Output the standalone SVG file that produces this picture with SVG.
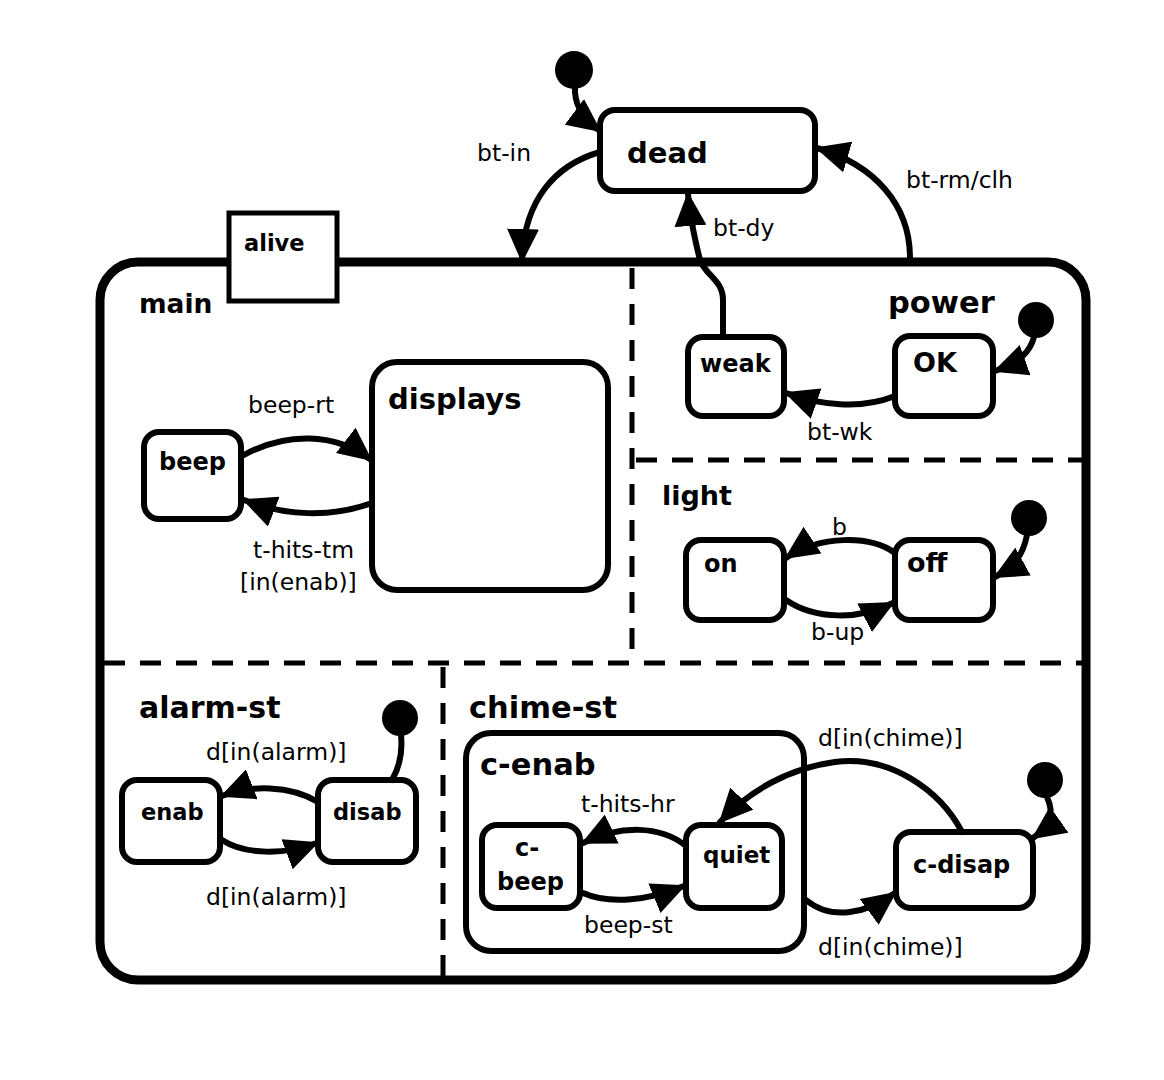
<svg xmlns="http://www.w3.org/2000/svg" width="1164" height="1080" viewBox="0 0 1164 1080">
  <style>
    .state { fill: #fff; stroke: #000; stroke-width: 6; }
    .outer { fill: #fff; stroke: #000; stroke-width: 9; }
    .region { fill: none; stroke: #000; stroke-width: 5; stroke-dasharray: 21 15; }
    .edge { fill: none; stroke: #000; stroke-width: 6; stroke-linecap: round; }
    .arrow { marker-end: url(#head); }
    .init { fill: #000; }
    .name { font-family: "DejaVu Sans", "Liberation Sans", sans-serif; font-size: 29px; font-weight: bold; fill: #000; }
    .small { font-size: 24px; }
    .lbl { font-family: "DejaVu Sans", "Liberation Sans", sans-serif; font-size: 23.5px; fill: #000; }
  </style>
  <defs>
    <marker id="head" markerUnits="userSpaceOnUse" markerWidth="34" markerHeight="32" refX="32" refY="16" orient="auto">
      <path d="M0,0 L34,16 L0,32 z" fill="#000"/>
    </marker>
  </defs>
  <rect width="1164" height="1080" fill="#fff"/>

  <!-- alive superstate with its orthogonal regions -->
  <g id="alive">
    <rect class="outer" x="100" y="262" width="986" height="718" rx="38"/>
    <rect fill="#fff" stroke="#000" stroke-width="5" x="229" y="213" width="108" height="88"/>
    <text class="name" x="244" y="251" style="font-size:22.5px">alive</text>
    <line class="region" x1="632" y1="268" x2="632" y2="660"/>
    <line class="region" x1="636" y1="460" x2="1082" y2="460"/>
    <line class="region" x1="104" y1="663" x2="1082" y2="663"/>
    <line class="region" x1="443" y1="667" x2="443" y2="976"/>
    <text class="name" x="139" y="313" style="font-size:26.5px">main</text>
    <text class="name" x="888" y="313" style="font-size:30.5px">power</text>
    <text class="name" x="662" y="505" style="font-size:27px">light</text>
    <text class="name" x="139" y="718" style="font-size:30px">alarm-st</text>
    <text class="name" x="469" y="718" style="font-size:30.5px">chime-st</text>
  </g>

  <g id="dead">
    <rect class="state" x="600" y="110" width="215" height="81" rx="15"/>
    <text class="name" x="627" y="163">dead</text>
  </g>
  <g id="displays">
    <rect class="state" x="372" y="362" width="236" height="228" rx="25"/>
    <text class="name" x="388" y="409">displays</text>
  </g>
  <g id="beep">
    <rect class="state" x="144" y="432" width="97" height="87" rx="15"/>
    <text class="name small" x="159" y="470">beep</text>
  </g>
  <g id="weak">
    <rect class="state" x="688" y="337" width="96" height="79" rx="15"/>
    <text class="name small" x="700" y="372">weak</text>
  </g>
  <g id="OK">
    <rect class="state" x="895" y="336" width="98" height="80" rx="15"/>
    <text class="name small" x="913" y="372" style="font-size:27px">OK</text>
  </g>
  <g id="on">
    <rect class="state" x="686" y="540" width="98" height="80" rx="15"/>
    <text class="name small" x="704" y="572">on</text>
  </g>
  <g id="off">
    <rect class="state" x="895" y="540" width="98" height="80" rx="15"/>
    <text class="name small" x="907" y="572" style="font-size:27px">off</text>
  </g>
  <g id="enab">
    <rect class="state" x="122" y="780" width="98" height="82" rx="15"/>
    <text class="name small" x="141" y="820" style="font-size:22.5px">enab</text>
  </g>
  <g id="disab">
    <rect class="state" x="318" y="780" width="98" height="82" rx="15"/>
    <text class="name small" x="333" y="820" style="font-size:22.5px">disab</text>
  </g>
  <g id="c-enab">
    <rect class="state" x="466" y="733" width="338" height="218" rx="25"/>
    <text class="name" x="480" y="775" style="font-size:30.5px">c-enab</text>
  </g>
  <g id="c-beep">
    <rect class="state" x="482" y="825" width="98" height="83" rx="15"/>
    <text class="name small" x="515" y="856">c-</text>
    <text class="name small" x="497" y="890">beep</text>
  </g>
  <g id="quiet">
    <rect class="state" x="686" y="825" width="96" height="83" rx="15"/>
    <text class="name small" x="703" y="863" style="font-size:23px">quiet</text>
  </g>
  <g id="c-disap">
    <rect class="state" x="896" y="832" width="137" height="76" rx="15"/>
    <text class="name small" x="913" y="873">c-disap</text>
  </g>

  <!-- initial pseudo-states -->
  <g id="init-top"><circle class="init" cx="574" cy="70" r="19"/></g>
  <g id="init-power"><circle class="init" cx="1036" cy="320" r="18"/></g>
  <g id="init-light"><circle class="init" cx="1029" cy="518" r="18"/></g>
  <g id="init-alarm"><circle class="init" cx="400" cy="718" r="18"/></g>
  <g id="init-chime"><circle class="init" cx="1045" cy="780" r="18"/></g>

  <g id="connectors">
    <path class="edge arrow" d="M575,86 C574,102 580,116 600,131"/>
    <path class="edge arrow" d="M600,152 C555,165 524,200 522,261"/>
    <path class="edge arrow" d="M910,258 C910,205 875,165 817,148"/>
    <path class="edge arrow" d="M723,335 L723,300 C723,280 705,275 700,260 C695,240 690,220 688,194"/>
    <path class="edge arrow" d="M242,456 C285,432 335,432 371,460"/>
    <path class="edge arrow" d="M372,503 C330,518 285,516 244,500"/>
    <path class="edge arrow" d="M1034,337 C1030,352 1020,362 995,371"/>
    <path class="edge arrow" d="M895,396 C860,410 820,405 786,393"/>
    <path class="edge arrow" d="M1027,535 C1023,555 1015,566 995,577"/>
    <path class="edge arrow" d="M895,553 C870,535 820,535 786,558"/>
    <path class="edge arrow" d="M786,600 C815,620 860,620 893,603"/>
    <path class="edge" d="M401,735 C403,755 399,768 392,780"/>
    <path class="edge arrow" d="M318,802 C290,785 250,785 222,796"/>
    <path class="edge arrow" d="M222,840 C245,855 285,855 317,843"/>
    <path class="edge arrow" d="M1047,797 C1055,815 1050,826 1033,838"/>
    <path class="edge arrow" d="M962,832 C940,790 890,755 835,762 C790,768 750,790 720,822"/>
    <path class="edge arrow" d="M806,900 C830,920 865,915 895,893"/>
    <path class="edge arrow" d="M686,846 C660,825 620,825 583,843"/>
    <path class="edge arrow" d="M583,893 C610,905 650,900 684,886"/>
  </g>

  <g id="labels">
    <text class="lbl" x="477" y="161">bt-in</text>
    <text class="lbl" x="906" y="188">bt-rm/clh</text>
    <text class="lbl" x="713" y="236">bt-dy</text>
    <text class="lbl" x="248" y="413">beep-rt</text>
    <text class="lbl" x="253" y="558">t-hits-tm</text>
    <text class="lbl" x="240" y="590">[in(enab)]</text>
    <text class="lbl" x="807" y="440">bt-wk</text>
    <text class="lbl" x="832" y="535">b</text>
    <text class="lbl" x="811" y="640">b-up</text>
    <text class="lbl" x="206" y="760">d[in(alarm)]</text>
    <text class="lbl" x="206" y="905">d[in(alarm)]</text>
    <text class="lbl" x="818" y="746">d[in(chime)]</text>
    <text class="lbl" x="818" y="955">d[in(chime)]</text>
    <text class="lbl" x="581" y="812">t-hits-hr</text>
    <text class="lbl" x="584" y="933">beep-st</text>
  </g>
</svg>
